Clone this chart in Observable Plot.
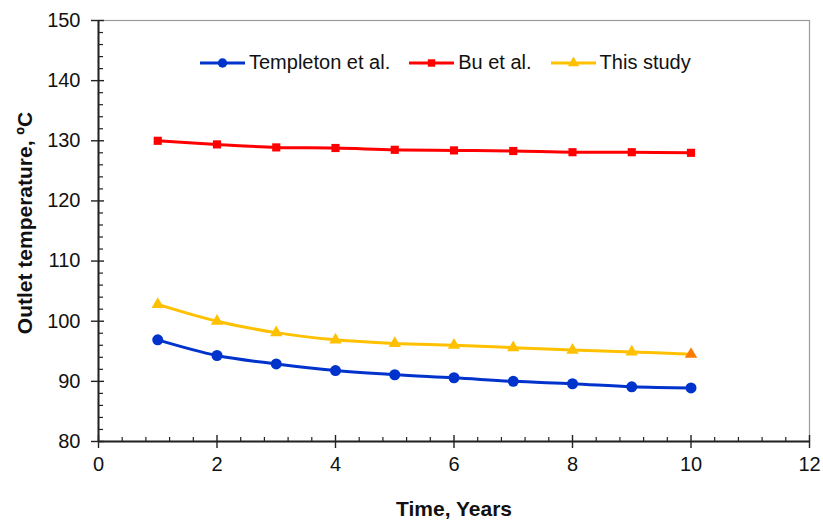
<!DOCTYPE html>
<html>
<head>
<meta charset="utf-8">
<script src="https://cdn.jsdelivr.net/npm/d3@7"></script>
<script src="https://cdn.jsdelivr.net/npm/@observablehq/plot@0.6"></script>
<style>
  body { margin: 0; background: #fff; font-family: "Liberation Sans", Arial, sans-serif; }
  #wrap { position: relative; width: 823px; height: 522px; }
  #legend { position: absolute; left: 200px; top: 51px; display: flex; align-items: center; font-size: 20px; color: #111; white-space: nowrap; }
  #legend .item { display: flex; align-items: center; margin-right: 19px; }
  #legend svg { display: block; margin-right: 4px; }
</style>
</head>
<body>
<div id="wrap"><div id="legend"></div></div>
<script>
const years = [1, 2, 3, 4, 5, 6, 7, 8, 9, 10];
const templeton = [96.9, 94.3, 92.9, 91.8, 91.1, 90.6, 90.0, 89.6, 89.1, 88.9];
const bu = [130.0, 129.4, 128.9, 128.8, 128.5, 128.4, 128.3, 128.1, 128.1, 128.0];
const thisStudy = [102.8, 100.0, 98.1, 96.9, 96.3, 96.0, 95.6, 95.2, 94.9, 94.5];

const seriesNames = ["Templeton et al.", "Bu et al.", "This study"];
const seriesColors = ["#0033CC", "#FF0000", "#FFC000"];
const seriesSymbols = ["circle", "square", "triangle"];

const xMajor = [0, 2, 4, 6, 8, 10, 12];
const yMajor = [80, 90, 100, 110, 120, 130, 140, 150];
const xMinor = d3.range(0, 12.001, 0.4).map(v => +v.toFixed(1)).filter(v => Math.abs(v / 2 - Math.round(v / 2)) > 1e-6);
const yMinor = d3.range(80, 151, 2).filter(v => v % 10 !== 0);

const W = 823, H = 522, mL = 98, mR = 14, mT = 20, mB = 81;
const innerW = W - mL - mR, innerH = H - mT - mB;

const rows = [];
[templeton, bu, thisStudy].forEach((vals, s) => {
  vals.forEach((v, i) => rows.push({series: seriesNames[s], year: years[i], value: v, last: i === vals.length - 1}));
});

const lineMarks = seriesNames.map((name, s) => {
  const data = rows.filter(r => r.series === name);
  return [
    Plot.line(data, {x: "year", y: "value", stroke: seriesColors[s], strokeWidth: 3, curve: "catmull-rom"}),
    Plot.dot(data, {x: "year", y: "value", symbol: seriesSymbols[s], r: s === 0 ? 5.5 : 4.6,
      fill: s === 2 ? (d => d.last ? "#FF7A00" : seriesColors[s]) : seriesColors[s], stroke: "none"})
  ];
});

const chart = Plot.plot({
  width: W, height: H,
  marginLeft: mL, marginRight: mR, marginTop: mT, marginBottom: mB,
  style: {fontFamily: "'Liberation Sans', Arial, sans-serif", fontSize: "20px", color: "#111", background: "#fff"},
  x: {domain: [0, 12]},
  y: {domain: [80, 150]},
  marks: [
    Plot.frame({stroke: "#9a9a9a", strokeWidth: 1.2}),
    Plot.ruleX(xMinor, {x: d => d, insetTop: innerH - 4, stroke: "#222", strokeWidth: 1.2}),
    Plot.ruleX(xMajor, {x: d => d, insetTop: innerH - 6, insetBottom: -7, stroke: "#222", strokeWidth: 1.4}),
    Plot.ruleY(yMinor, {y: d => d, insetRight: innerW - 5, stroke: "#222", strokeWidth: 1.2}),
    Plot.ruleY(yMajor, {y: d => d, insetRight: innerW - 6, insetLeft: -7, stroke: "#222", strokeWidth: 1.4}),
    Plot.ruleY([80], {stroke: "#222", strokeWidth: 2}),
    Plot.ruleX([0], {stroke: "#222", strokeWidth: 2}),
    Plot.axisX({ticks: xMajor, tickSize: 0, tickPadding: 15, label: null, fill: "#111"}),
    Plot.axisY({ticks: yMajor, tickSize: 0, tickPadding: 18, label: null, fill: "#111"}),
    Plot.text(["Time, Years"], {frameAnchor: "bottom", dy: 74, fontSize: 21, fontWeight: "bold", fill: "#111"}),
    Plot.text(["Outlet temperature, ºC"], {frameAnchor: "left", textAnchor: "middle", rotate: -90, dx: -73, dy: -8, fontSize: 21, fontWeight: "bold", fill: "#111"}),
    ...lineMarks.flat()
  ]
});
document.getElementById("wrap").prepend(chart);

// legend
const legend = d3.select("#legend");
seriesNames.forEach((name, s) => {
  const item = legend.append("div").attr("class", "item");
  const svg = item.append("svg").attr("width", 45).attr("height", 14);
  svg.append("line").attr("x1", 0).attr("x2", 45).attr("y1", 7).attr("y2", 7)
    .attr("stroke", seriesColors[s]).attr("stroke-width", 3);
  svg.append("path").attr("transform", "translate(22.5,7)")
    .attr("d", d3.symbol(s === 0 ? d3.symbolCircle : s === 1 ? d3.symbolSquare : d3.symbolTriangle, s === 0 ? 70 : 55)())
    .attr("fill", seriesColors[s]);
  item.append("span").text(name);
});
</script>
</body>
</html>
